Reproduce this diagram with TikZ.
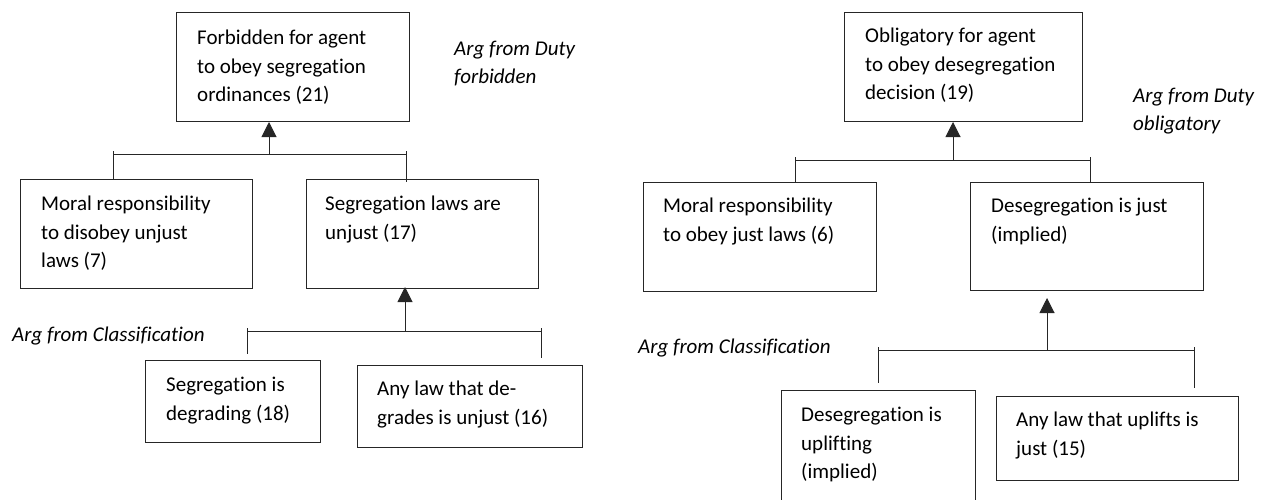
\documentclass[tikz,border=0pt]{standalone}
\usepackage{fontspec}
\setmainfont{Carlito}[Ligatures={NoCommon}]
\usetikzlibrary{arrows.meta}
\tikzset{
  box/.style={draw=black!85, line width=1pt, rectangle, inner sep=0pt},
  txt/.style={inner sep=0pt, anchor=north west, align=left, font=\fontsize{21}{28.5}\selectfont},
  lbl/.style={inner sep=0pt, anchor=north west, align=left, font=\fontsize{21}{27.5}\selectfont\itshape},
  con/.style={draw=black!85, line width=1pt},
  arr/.style={con, -{Triangle[width=15pt,length=15pt]}}
}
\begin{document}
\begin{tikzpicture}[x=1pt,y=-1pt]
\useasboundingbox (0,0) rectangle (1265,499);
% ---------- left tree ----------
\node[box, minimum width=233pt, minimum height=109pt, anchor=north west] (LT) at (176,12) {};
\node[box, minimum width=232pt, minimum height=109pt, anchor=north west] (LML) at (20,179) {};
\node[box, minimum width=232pt, minimum height=109pt, anchor=north west] (LMR) at (306,179) {};
\node[box, minimum width=175pt, minimum height=82pt, anchor=north west] (LBL) at (145,360) {};
\node[box, minimum width=225pt, minimum height=82pt, anchor=north west] (LBR) at (357,365) {};

\node[txt] (LTt) at (197,30) {Forbidden for agent\\to obey segregation\\ordinances (21)};
\node[txt] (LMLt) at (41,196) {Moral responsibility\\to disobey unjust\\laws (7)};
\node[txt] (LMRt) at (325,196) {Segregation laws are\\unjust (17)};
\node[txt] (LBLt) at (166,377) {Segregation is\\degrading (18)};
\node[txt] (LBRt) at (377,381) {Any law that de-\\grades is unjust (16)};
\node[lbl] (LD) at (454,41) {Arg from Duty\\forbidden};
\node[lbl] (LC) at (12,327) {Arg from Classification};

\coordinate (J1) at (269,154);
\coordinate (J1a) at (113,151);
\coordinate (J1b) at (406,151);
\draw[con] (J1a |- J1) -- (J1b |- J1);
\draw[con] (J1a) -- (J1a |- LML.north);
\draw[con] (J1b) -- ([yshift=-3pt]J1b |- LMR.north);
\draw[arr] (J1) -- (J1 |- LT.south);

\coordinate (J2) at (405,331);
\coordinate (J2a) at (247,328);
\coordinate (J2b) at (541,328);
\draw[con] (J2a |- J2) -- (J2b |- J2);
\draw[con] (J2a) -- ([yshift=6pt]J2a |- LBL.north);
\draw[con] (J2b) -- ([yshift=7pt]J2b |- LBR.north);
\draw[arr] (J2) -- ([yshift=2pt]J2 |- LMR.south);

% ---------- right tree ----------
\node[box, minimum width=238pt, minimum height=109pt, anchor=north west] (RT) at (844,12) {};
\node[box, minimum width=233pt, minimum height=109pt, anchor=north west] (RML) at (643,182) {};
\node[box, minimum width=233pt, minimum height=108pt, anchor=north west] (RMR) at (970,182) {};
\node[box, minimum width=194pt, minimum height=120pt, anchor=north west] (RBL) at (781,390) {};
\node[box, minimum width=242pt, minimum height=84pt, anchor=north west] (RBR) at (996,396) {};

\node[txt] (RTt) at (865,28) {Obligatory for agent\\to obey desegregation\\decision (19)};
\node[txt] (RMLt) at (663,198) {Moral responsibility\\to obey just laws (6)};
\node[txt] (RMRt) at (991,198) {Desegregation is just\\(implied)};
\node[txt] (RBLt) at (801,407) {Desegregation is\\uplifting\\(implied)};
\node[txt] (RBRt) at (1016,412) {Any law that uplifts is\\just (15)};
\node[lbl] (RD) at (1133,88) {Arg from Duty\\obligatory};
\node[lbl] (RC) at (638,339) {Arg from Classification};

\coordinate (J3) at (953,160);
\coordinate (J3a) at (795,157);
\coordinate (J3b) at (1090,157);
\draw[con] (J3a |- J3) -- (J3b |- J3);
\draw[con] (J3a) -- (J3a |- RML.north);
\draw[con] (J3b) -- (J3b |- RMR.north);
\draw[arr] (J3) -- (J3 |- RT.south);

\coordinate (J4) at (1047,350);
\coordinate (J4a) at (878,347);
\coordinate (J4b) at (1194,347);
\draw[con] (J4a |- J4) -- (J4b |- J4);
\draw[con] (J4a) -- ([yshift=7pt]J4a |- RBL.north);
\draw[con] (J4b) -- ([yshift=8pt]J4b |- RBR.north);
\draw[arr] (J4) -- ([yshift=-7pt]J4 |- RMR.south);
\end{tikzpicture}
\end{document}
